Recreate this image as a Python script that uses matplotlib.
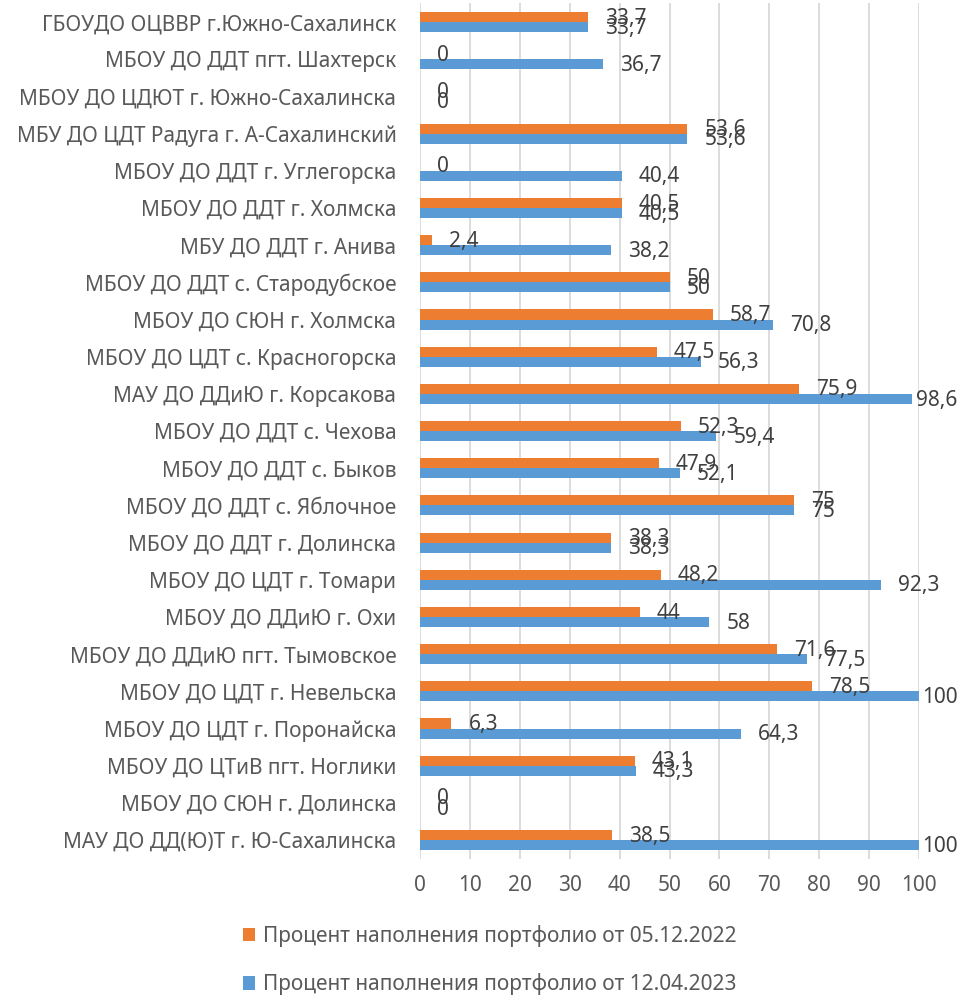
import matplotlib
matplotlib.use('Agg')
import matplotlib.pyplot as plt
import numpy as np

plt.rcParams['font.family'] = ['Noto Sans', 'DejaVu Sans']

# categories from top to bottom as in the picture
categories = [
    'ГБОУДО ОЦВВР г.Южно-Сахалинск',
    'МБОУ ДО ДДТ пгт. Шахтерск',
    'МБОУ ДО ЦДЮТ г. Южно-Сахалинска',
    'МБУ ДО ЦДТ Радуга г. А-Сахалинский',
    'МБОУ ДО ДДТ г. Углегорска',
    'МБОУ ДО ДДТ г. Холмска',
    'МБУ ДО ДДТ г. Анива',
    'МБОУ ДО ДДТ с. Стародубское',
    'МБОУ ДО СЮН г. Холмска',
    'МБОУ ДО ЦДТ с. Красногорска',
    'МАУ ДО ДДиЮ г. Корсакова',
    'МБОУ ДО ДДТ с. Чехова',
    'МБОУ ДО ДДТ с. Быков',
    'МБОУ ДО ДДТ с. Яблочное',
    'МБОУ ДО ДДТ г. Долинска',
    'МБОУ ДО ЦДТ г. Томари',
    'МБОУ ДО ДДиЮ г. Охи',
    'МБОУ ДО ДДиЮ пгт. Тымовское',
    'МБОУ ДО ЦДТ г. Невельска',
    'МБОУ ДО ЦДТ г. Поронайска',
    'МБОУ ДО ЦТиВ пгт. Ноглики',
    'МБОУ ДО СЮН г. Долинска',
    'МАУ ДО ДД(Ю)Т г. Ю-Сахалинска',
]
dec_2022 = [33.7, 0, 0, 53.6, 0, 40.5, 2.4, 50, 58.7, 47.5, 75.9, 52.3, 47.9,
            75, 38.3, 48.2, 44, 71.6, 78.5, 6.3, 43.1, 0, 38.5]
apr_2023 = [33.7, 36.7, 0, 53.6, 40.4, 40.5, 38.2, 50, 70.8, 56.3, 98.6, 59.4,
            52.1, 75, 38.3, 92.3, 58, 77.5, 100, 64.3, 43.3, 0, 100]
series_names = ['Процент наполнения портфолио от 05.12.2022',
                'Процент наполнения портфолио от 12.04.2023']

orange = '#ED7D31'
blue = '#5B9BD5'
txt = '#595959'
lbl = '#404040'
fs = 15

fig = plt.figure(figsize=(9.6, 9.99), dpi=100)
ax = fig.add_axes([0.4375, 0.1405, 0.5198, 0.856])

n = len(categories)
y = np.arange(n)
h = 0.27

ax.barh(y - h / 2, dec_2022, height=h, color=orange, label=series_names[0], zorder=3)
ax.barh(y + h / 2, apr_2023, height=h, color=blue, label=series_names[1], zorder=3)

ax.set_xlim(0, 100)
ax.set_ylim(n - 0.5, -0.5)
ax.set_xticks(np.arange(0, 101, 10))
ax.set_yticks(y)
ax.set_yticklabels(categories)
ax.tick_params(axis='both', length=0, labelsize=fs, colors=txt)
ax.tick_params(axis='y', pad=17)
ax.tick_params(axis='x', pad=12)
ax.grid(axis='x', color='#D9D9D9', linewidth=1.3, zorder=0)
for s in ax.spines.values():
    s.set_visible(False)


def fmt(v):
    return ('%g' % v).replace('.', ',')


def add_labels(vals, offs):
    for yi, v in zip(y, vals):
        # keep labels inside the figure near the right edge
        dx = 17 if v < 95 else (4 if v < 99.9 else 3)
        ax.annotate(fmt(v), (v, yi + offs), xytext=(dx, 0),
                    textcoords='offset pixels', va='center', ha='left',
                    fontsize=fs, color=lbl, zorder=4)


add_labels(dec_2022, -h / 2 + 0.03)
add_labels(apr_2023, h / 2 + 0.03)

fig.legend(loc='lower center', bbox_to_anchor=(0.51, -0.015), ncol=1,
           frameon=False, fontsize=fs, labelcolor=txt, handlelength=0.6,
           handleheight=0.6, handletextpad=0.35, labelspacing=1.25)

fig.savefig('out.png', dpi=100)
